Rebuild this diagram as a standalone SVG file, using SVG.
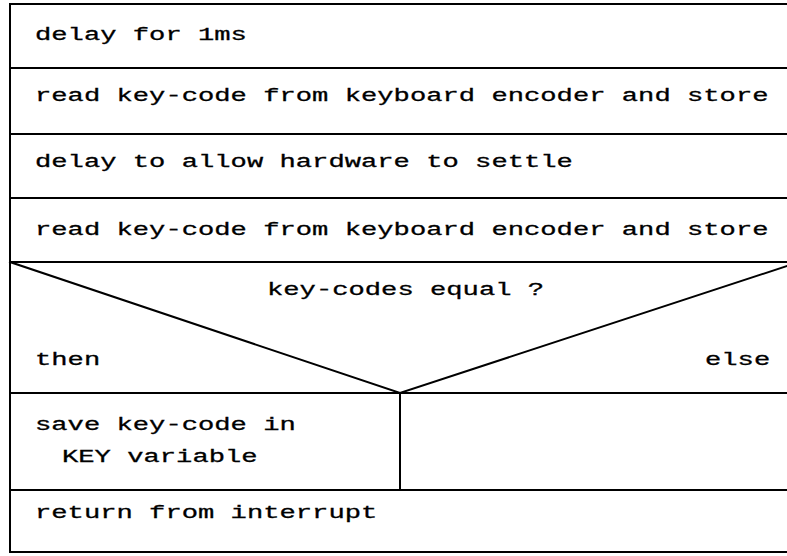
<svg xmlns="http://www.w3.org/2000/svg" width="787" height="556" viewBox="0 0 787 556">
<style>
.ln{stroke:#000;stroke-width:2;fill:none;stroke-linecap:square}
.t{font-family:"Liberation Mono","DejaVu Sans Mono",monospace;font-size:19px;fill:#000;stroke:#000;stroke-width:0.3}
</style>
<rect width="787" height="556" fill="#fff"/>
<g id="frame">
<line class="ln" x1="10" y1="4" x2="10" y2="552"/>
</g>
<g id="step1">
<line class="ln" x1="10" y1="4" x2="787" y2="4"/>
<text class="t" transform="translate(35,40) scale(1.43,1)">delay for 1ms</text>
</g>
<g id="step2">
<line class="ln" x1="10" y1="68" x2="787" y2="68"/>
<text class="t" transform="translate(35,101) scale(1.43,1)">read key-code from keyboard encoder and store</text>
</g>
<g id="step3">
<line class="ln" x1="10" y1="134" x2="787" y2="134"/>
<text class="t" transform="translate(35,167) scale(1.43,1)">delay to allow hardware to settle</text>
</g>
<g id="step4">
<line class="ln" x1="10" y1="198" x2="787" y2="198"/>
<text class="t" transform="translate(35,235) scale(1.43,1)">read key-code from keyboard encoder and store</text>
</g>
<g id="decision">
<line class="ln" x1="10" y1="262" x2="787" y2="262"/>
<polyline class="ln" points="10,262 400,393 787,266"/>
<text class="t" transform="translate(267,295) scale(1.43,1)">key-codes equal ?</text>
<text class="t" transform="translate(35,365) scale(1.43,1)">then</text>
<text class="t" transform="translate(705,365) scale(1.43,1)">else</text>
</g>
<g id="then-branch">
<line class="ln" x1="10" y1="393" x2="787" y2="393"/>
<line class="ln" x1="400" y1="393" x2="400" y2="490"/>
<text class="t" transform="translate(35,430) scale(1.43,1)">save key-code in</text>
<text class="t" transform="translate(62,462) scale(1.43,1)">KEY variable</text>
</g>
<g id="else-branch"></g>
<g id="step5">
<line class="ln" x1="10" y1="490" x2="787" y2="490"/>
<text class="t" transform="translate(35,518) scale(1.43,1)">return from interrupt</text>
<line class="ln" x1="10" y1="552" x2="787" y2="552"/>
</g>
<g id="connectors"></g>
</svg>
